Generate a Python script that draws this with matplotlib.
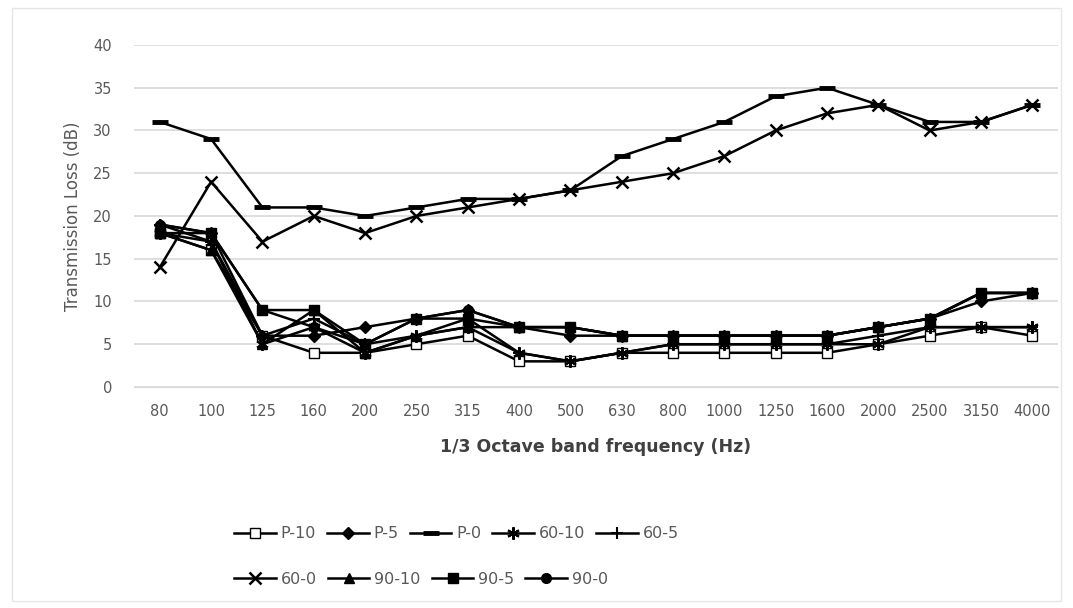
import matplotlib.pyplot as plt
import numpy as np
from matplotlib.patches import Rectangle

freqs = ['80', '100', '125', '160', '200', '250', '315', '400', '500', '630',
         '800', '1000', '1250', '1600', '2000', '2500', '3150', '4000']

p_10 = [18, 16, 6, 4, 4, 5, 6, 3, 3, 4, 4, 4, 4, 4, 5, 6, 7, 6]
p_5 = [19, 18, 6, 6, 7, 8, 9, 7, 6, 6, 6, 6, 6, 6, 7, 8, 10, 11]
p_0 = [31, 29, 21, 21, 20, 21, 22, 22, 23, 27, 29, 31, 34, 35, 33, 31, 31, 33]
s60_10 = [18, 17, 5, 7, 4, 6, 7, 4, 3, 4, 5, 5, 5, 5, 5, 7, 7, 7]
s60_5 = [19, 17, 6, 8, 5, 6, 8, 4, 3, 4, 5, 5, 5, 5, 6, 7, 7, 7]
s60_0 = [14, 24, 17, 20, 18, 20, 21, 22, 23, 24, 25, 27, 30, 32, 33, 30, 31, 33]
s90_10 = [18, 16, 5, 9, 4, 6, 7, 7, 7, 6, 6, 6, 6, 6, 7, 8, 11, 11]
s90_5 = [18, 18, 9, 9, 5, 8, 8, 7, 7, 6, 6, 6, 6, 6, 7, 8, 11, 11]
s90_0 = [19, 18, 9, 7, 5, 8, 9, 7, 7, 6, 6, 6, 6, 6, 7, 8, 11, 11]

labels = ['P-10', 'P-5', 'P-0', '60-10', '60-5', '60-0', '90-10', '90-5', '90-0']
series = [p_10, p_5, p_0, s60_10, s60_5, s60_0, s90_10, s90_5, s90_0]
styles = [
    dict(marker='s', mfc='white', ms=7),
    dict(marker='D', ms=6, mfc='black'),
    dict(marker='_', ms=12, mew=3.5),
    dict(marker=(6, 2, 0), ms=9, mew=1.5),
    dict(marker='+', ms=9, mew=1.5),
    dict(marker='x', ms=8, mew=1.8),
    dict(marker='^', ms=7, mfc='black'),
    dict(marker='s', ms=7, mfc='black'),
    dict(marker='o', ms=7, mfc='black'),
]

grey = '#595959'
fig = plt.figure(figsize=(10.73, 6.08), dpi=100)
ax = fig.add_axes([0.125, 0.3635, 0.861, 0.5625])

x = np.arange(len(freqs))
handles = []
for y, lab, st in zip(series, labels, styles):
    h, = ax.plot(x, y, color='black', lw=1.8, mec='black', label=lab, **st)
    handles.append(h)

ax.set_xlim(-0.5, len(freqs) - 0.5)
ax.set_ylim(0, 40)
ax.set_yticks(range(0, 41, 5))
ax.set_xticks(x)
ax.set_xticklabels(freqs)
ax.grid(axis='y', color='#d9d9d9', lw=1.2)
ax.set_axisbelow(True)
for s in ['top', 'right', 'left']:
    ax.spines[s].set_visible(False)
ax.spines['bottom'].set_color('#d9d9d9')
ax.tick_params(length=0, colors=grey, labelsize=10.5, pad=12)
ax.tick_params(axis='y', pad=16)
ax.set_ylabel('Transmission Loss (dB)', color=grey, fontsize=12, labelpad=8)
ax.set_xlabel('1/3 Octave band frequency (Hz)', color='#404040', fontsize=12.5,
              fontweight='bold', labelpad=14)

# two legend rows, flowing like the original
leg_kw = dict(loc='center left', frameon=False, fontsize=11.5, handlelength=2.6,
              columnspacing=0.7, handletextpad=0.3, labelcolor=grey)
leg1 = fig.legend(handles[:5], labels[:5], bbox_to_anchor=(0.205, 0.122), ncol=5, **leg_kw)
fig.legend(handles[5:], labels[5:], bbox_to_anchor=(0.205, 0.047), ncol=4, **leg_kw)

fig.patches.append(Rectangle((0.011, 0.012), 0.978, 0.975, transform=fig.transFigure,
                             fill=False, ec='#e6e6e6', lw=1))

fig.savefig('out.png', dpi=100)
